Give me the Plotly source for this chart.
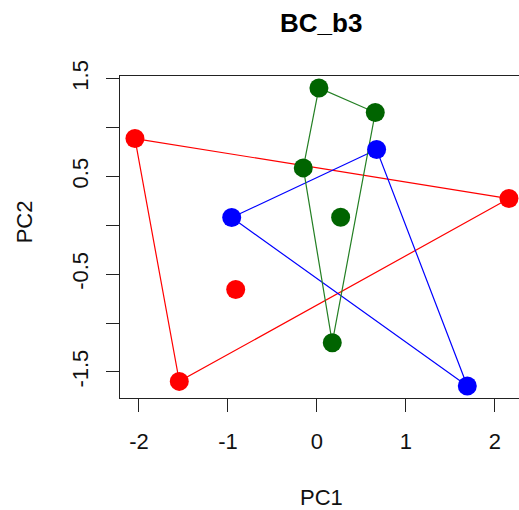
import plotly.graph_objects as go

# Data
red_pc1 = [-2.045, 2.157, -1.547, -0.913]
red_pc2 = [0.887, 0.273, -1.597, -0.658]
blue_pc1 = [0.670, -0.958, 1.689]
blue_pc2 = [0.775, 0.079, -1.645]
green_pc1 = [0.022, 0.655, -0.154, 0.266, 0.172]
green_pc2 = [1.405, 1.153, 0.587, 0.082, -1.201]

x_ticks = [-2, -1, 0, 1, 2]
y_ticks = [-1.5, -1.0, -0.5, 0.0, 0.5, 1.0, 1.5]
y_ticktext = ["-1.5", "", "-0.5", "", "0.5", "", "1.5"]

groups = [
    (red_pc1, red_pc2, "#FF0000", "#FF0000"),
    (blue_pc1, blue_pc2, "#0000FF", "#0000FF"),
    (green_pc1, green_pc2, "#006400", "#237F23"),
]


def convex_hull(xs, ys):
    pts = sorted(zip(xs, ys))
    if len(pts) <= 2:
        return pts

    def cross(o, a, b):
        return (a[0] - o[0]) * (b[1] - o[1]) - (a[1] - o[1]) * (b[0] - o[0])

    lower, upper = [], []
    for p in pts:
        while len(lower) >= 2 and cross(lower[-2], lower[-1], p) <= 0:
            lower.pop()
        lower.append(p)
    for p in reversed(pts):
        while len(upper) >= 2 and cross(upper[-2], upper[-1], p) <= 0:
            upper.pop()
        upper.append(p)
    return lower[:-1] + upper[:-1]


fig = go.Figure()
for xs, ys, pcol, lcol in groups:
    hull = convex_hull(xs, ys)
    hull = hull + [hull[0]]
    fig.add_trace(go.Scatter(
        x=[p[0] for p in hull], y=[p[1] for p in hull], mode="lines",
        line=dict(color=lcol, width=1.2), hoverinfo="skip", showlegend=False))
for xs, ys, pcol, lcol in groups:
    fig.add_trace(go.Scatter(
        x=xs, y=ys, mode="markers",
        marker=dict(color=pcol, size=19, line=dict(width=0)),
        showlegend=False))

FONT = "Liberation Sans, Arial, sans-serif"

fig.update_layout(
    width=519, height=510,
    margin=dict(l=120, r=0, t=76, b=112),
    paper_bgcolor="white", plot_bgcolor="white",
    font=dict(family=FONT, size=22, color="#111111"),
    xaxis=dict(
        range=[-2.213, 2.270], tickvals=x_ticks, ticktext=[str(v) for v in x_ticks],
        showgrid=False, zeroline=False, showline=True, mirror=True,
        linecolor="#222222", linewidth=1.3,
        ticks="outside", ticklen=13, tickwidth=1.3, tickcolor="#222222",
        ticklabelstandoff=10,
        tickfont=dict(size=22),
    ),
    yaxis=dict(
        range=[-1.767, 1.527], tickvals=y_ticks, ticktext=y_ticktext,
        showgrid=False, zeroline=False, showline=True, mirror=False,
        linecolor="#222222", linewidth=1.3,
        ticks="outside", ticklen=13, tickwidth=1.3, tickcolor="#222222",
        tickangle=-90, ticklabelstandoff=9,
        tickfont=dict(size=22),
    ),
    annotations=[
        dict(text="<b>BC_b3</b>", xref="x", yref="paper", x=0.05, y=1,
             yanchor="middle", xanchor="center", yshift=53, showarrow=False,
             font=dict(size=26, family=FONT, color="#000000")),
        dict(text="PC1", xref="x", yref="paper", x=0.05, y=0,
             yanchor="middle", xanchor="center", yshift=-99, showarrow=False,
             font=dict(size=22, family=FONT)),
        dict(text="PC2", xref="paper", yref="y", x=0, y=0.03,
             xanchor="center", yanchor="middle", xshift=-96, textangle=-90,
             showarrow=False, font=dict(size=22, family=FONT)),
    ],
)

fig.write_html("out.html", config={"displayModeBar": False},
               post_script="document.body.style.margin='0';document.body.style.overflow='hidden';")
